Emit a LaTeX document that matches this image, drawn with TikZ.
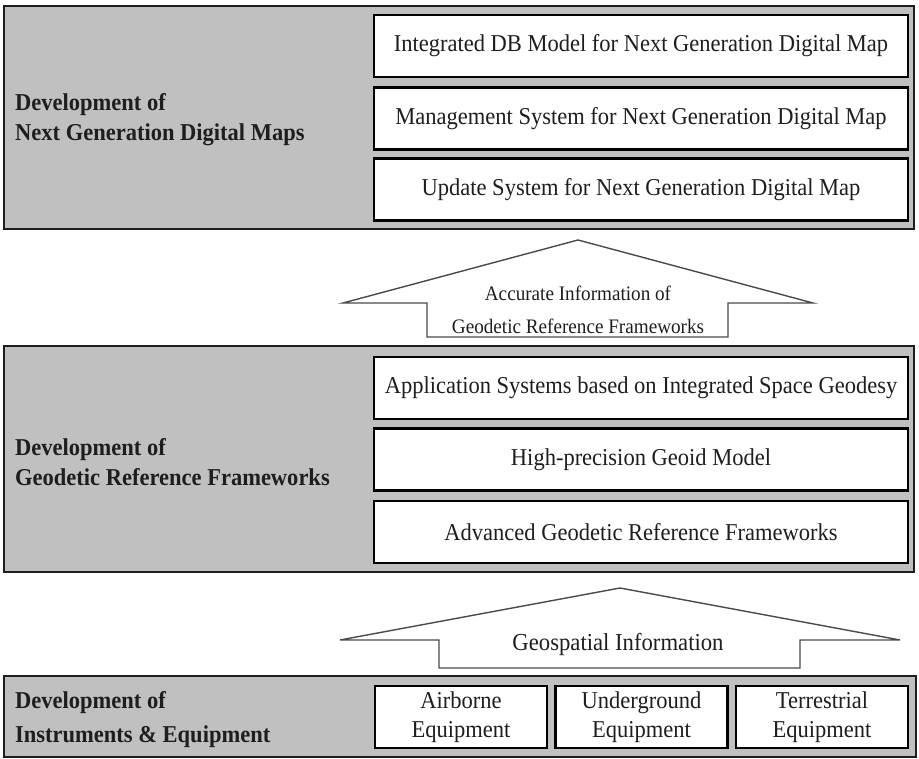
\documentclass[tikz,border=0pt]{standalone}
\usepackage{fontspec}
\setmainfont[FakeStretch=0.93]{Liberation Serif}
\definecolor{panelgray}{HTML}{C0C0C0}
\definecolor{inkdark}{HTML}{1E1E1E}
\definecolor{arrowline}{HTML}{4A4A4A}
\begin{document}
\begin{tikzpicture}[x=1pt,y=-1pt,
  panel/.style={draw=inkdark, line width=2.6pt, fill=panelgray, inner sep=0pt},
  item/.style={draw=black, line width=2.6pt, fill=white, inner sep=0pt,
    text=inkdark, align=center, font=\fontsize{24.2}{29}\selectfont},
  wide/.style={item, minimum width=534, minimum height=62},
  small/.style={item, minimum width=172, minimum height=62},
  heading/.style={anchor=west, inner sep=0pt, align=left, text=inkdark,
    font=\bfseries\fontsize{24.2}{30}\selectfont},
  flow/.style={draw=arrowline, line width=1.4pt, fill=white, line join=miter},
  flowtext/.style={inner sep=0pt, align=center, text=inkdark,
    font=\fontsize{20.6}{33}\selectfont}
]
\useasboundingbox (0,0) rectangle (919,759);

% ---- tier 1: next generation digital maps
\node[panel, minimum width=910, minimum height=223] (p1) at (459,117.5) {};
\node[heading] (h1) at (15,120) {Development of\\Next Generation Digital Maps};
\node[wide] (m1) at (641,46)    {Integrated DB Model for Next Generation Digital Map};
\node[wide] (m2) at (641,118.5) {Management System for Next Generation Digital Map};
\node[wide] (m3) at (641,189.5) {Update System for Next Generation Digital Map};

% ---- tier 2: geodetic reference frameworks
\node[panel, minimum width=910, minimum height=226] (p2) at (459,459) {};
\node[heading] (h2) at (15,462) {Development of\\Geodetic Reference Frameworks};
\node[wide] (g1) at (641,388)   {Application Systems based on Integrated Space Geodesy};
\node[wide] (g2) at (641,459.5) {High-precision Geoid Model};
\node[wide] (g3) at (641,532)   {Advanced Geodetic Reference Frameworks};

% ---- tier 3: instruments and equipment
\node[panel, minimum width=912, minimum height=81] (p3) at (460,716.5) {};
\node[heading, font=\bfseries\fontsize{24.2}{34}\selectfont] (h3) at (15,720)
  {Development of\\Instruments \& Equipment};
\node[small] (e1) at (461,717)   {Airborne\\Equipment};
\node[small] (e2) at (641.5,717) {Underground\\Equipment};
\node[small] (e3) at (822,717)   {Terrestrial\\Equipment};

% ---- block arrows between the tiers
\draw[flow] (427,337) -- (427,303) -- (343,303) -- (578,240)
  -- (813,303) -- (728,303) -- (728,337) -- cycle;
\node[flowtext] (a1) at (578,310) {Accurate Information of\\Geodetic Reference Frameworks};

\draw[flow] (439,668) -- (439,640) -- (340,640) -- (620,588)
  -- (900,640) -- (800,640) -- (800,668) -- cycle;
\node[flowtext, font=\fontsize{24.4}{30}\selectfont] (a2) at (618,645) {Geospatial Information};
\end{tikzpicture}
\end{document}
